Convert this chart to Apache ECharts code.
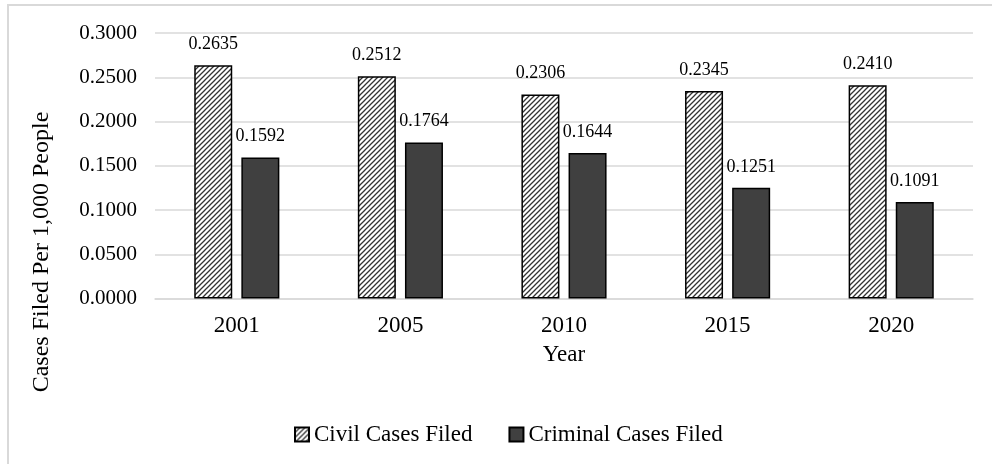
<!DOCTYPE html>
<html>
<head>
<meta charset="utf-8">
<script src="https://cdn.jsdelivr.net/npm/echarts@6/dist/echarts.min.js"></script>
<style>
html,body{margin:0;padding:0;background:#fff;}
#c{width:992px;height:464px;}
</style>
</head>
<body>
<div id="c"></div>
<script>
const categories = ['2001', '2005', '2010', '2015', '2020'];
const civilValues = [0.2635, 0.2512, 0.2306, 0.2345, 0.2410];
const criminalValues = [0.1592, 0.1764, 0.1644, 0.1251, 0.1091];
const seriesNames = ['Civil Cases Filed', 'Criminal Cases Filed'];
const yTitle = 'Cases Filed Per 1,000 People';
const xTitle = 'Year';

const FONT = 'Liberation Serif';

// hatch pattern "/"
const pc = document.createElement('canvas');
pc.width = 5; pc.height = 5;
const pctx = pc.getContext('2d');
pctx.fillStyle = '#fff';
pctx.fillRect(0, 0, 5, 5);
pctx.strokeStyle = '#333';
pctx.lineWidth = 1.3;
pctx.beginPath();
pctx.moveTo(-1, 6); pctx.lineTo(6, -1);
pctx.moveTo(-1, 1); pctx.lineTo(1, -1);
pctx.moveTo(4, 6); pctx.lineTo(6, 4);
pctx.stroke();

const chart = echarts.init(document.getElementById('c'), null, {renderer: 'canvas'});
chart.setOption({
  animation: false,
  backgroundColor: '#fff',
  textStyle: {fontFamily: FONT, color: '#000'},
  grid: {left: 155, right: 19, top: 33, bottom: 165.5, containLabel: false},
  legend: {
    data: seriesNames,
    icon: 'rect',
    left: 289,
    top: 418,
    itemWidth: 14,
    itemHeight: 14,
    itemGap: 36,
    textStyle: {fontFamily: FONT, fontSize: 23, color: '#000'}
  },
  xAxis: {
    type: 'category',
    data: categories,
    axisLine: {lineStyle: {color: '#d9d9d9', width: 1.5}},
    axisTick: {show: false},
    axisLabel: {fontFamily: FONT, fontSize: 23, color: '#000', margin: 16},
    name: xTitle,
    nameLocation: 'middle',
    nameGap: 45,
    nameTextStyle: {fontFamily: FONT, fontSize: 23, color: '#000'}
  },
  yAxis: {
    type: 'value',
    min: 0,
    max: 0.3,
    interval: 0.05,
    axisLine: {show: false},
    axisTick: {show: false},
    splitLine: {lineStyle: {color: '#d9d9d9', width: 1.5}},
    axisLabel: {fontFamily: FONT, fontSize: 21, color: '#000', margin: 18,
      formatter: v => v.toFixed(4)}
  },
  graphic: [
    {type: 'rect', shape: {x: 8, y: 5, width: 1100, height: 600},
     style: {fill: 'none', stroke: '#d9d9d9', lineWidth: 2}, silent: true, z: -1},
    {type: 'text', x: 42, y: 252, rotation: Math.PI / 2,
     style: {text: yTitle, font: '24px "Liberation Serif"', fill: '#000', textAlign: 'center', textVerticalAlign: 'middle'}}
  ],
  series: [
    {
      name: seriesNames[0],
      type: 'bar',
      data: civilValues,
      barWidth: 38,
      barGap: '24%',
      itemStyle: {color: {image: pc, repeat: 'repeat'}, borderColor: '#000', borderWidth: 1.5},
      label: {show: true, position: 'top', distance: 12, fontFamily: FONT, fontSize: 18, color: '#000',
        formatter: p => p.value.toFixed(4)}
    },
    {
      name: seriesNames[1],
      type: 'bar',
      data: criminalValues,
      barWidth: 38,
      itemStyle: {color: '#404040', borderColor: '#000', borderWidth: 1.5},
      label: {show: true, position: 'top', distance: 12, fontFamily: FONT, fontSize: 18, color: '#000',
        formatter: p => p.value.toFixed(4)}
    }
  ]
});
</script>
</body>
</html>
